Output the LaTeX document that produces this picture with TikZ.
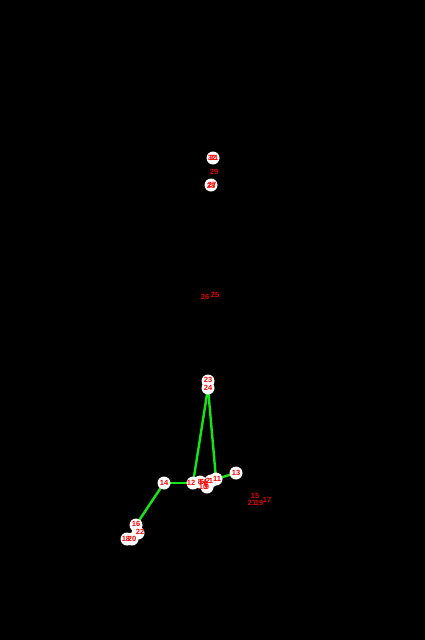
\documentclass[tikz,border=0pt]{standalone}
\usepackage{fontspec}
\setmainfont{Liberation Sans}
\begin{document}
\begin{tikzpicture}[x=1pt,y=-1pt,
  disc/.style={circle,fill=white,draw=none,minimum size=13pt,inner sep=0pt},
  txt/.style={inner sep=0pt,text=red,font=\bfseries\fontsize{7.5}{7.5}\selectfont},
  dim/.style={inner sep=0pt,text=red!90!black,font=\bfseries\fontsize{7.5}{7.5}\selectfont},
  bone/.style={draw={rgb,255:red,20;green,230;blue,20},line width=2.4pt,line cap=round}]
\fill[black] (0,0) rectangle (425,640);
\useasboundingbox (0,0) rectangle (425,640);
% coordinates
\coordinate (p23) at (208,381);
\coordinate (p24) at (208,388);
\coordinate (p11) at (216,479);
\coordinate (p12) at (193,483);
\coordinate (p13) at (236,473);
\coordinate (p14) at (164,483);
\coordinate (p16) at (136,525);
\coordinate (p18) at (127,539);
\coordinate (p20) at (132,539);
\coordinate (p22) at (138,533);
% bones
\draw[bone] (p24) -- (p12);
\draw[bone] (p24) -- (p11);
\draw[bone] (p12) -- (p11);
\draw[bone] (p12) -- (p14);
\draw[bone] (p14) -- (p16);
\draw[bone] (p11) -- (p13);
\draw[bone] (p16) -- (p22);
% dim labels (no circle)
\node[dim] (l29) at (214,172) {29};
\node[dim] (l26) at (205,297) {26};
\node[dim] (l25) at (215,295) {25};
\node[dim] (l15) at (255,496) {15};
\node[dim] (l17) at (267,500) {17};
\node[dim] (l21) at (252,503) {21};
\node[dim] (l19) at (259,503) {19};
% discs
\node[disc] (c31) at (213,158) {};
\node[disc] (c28) at (211,185) {};
\node[disc] (c23) at (p23) {};
\node[disc] (c24) at (p24) {};
\node[disc] (c13) at (p13) {};
\node[disc] (c14) at (p14) {};
\node[disc] (c12) at (p12) {};
\node[disc] (c11) at (p11) {};
\node[disc] (c8) at (200,482) {};
\node[disc] (c0) at (205,484) {};
\node[disc] (c9) at (207,487) {};
\node[disc] (c7) at (211,481) {};
\node[disc] (c16) at (p16) {};
\node[disc] (c22) at (p22) {};
\node[disc] (c18) at (p18) {};
\node[disc] (c20) at (p20) {};
% texts
\node[txt] (n32) at (212,158) {32};
\node[txt] (n31) at (214,158) {31};
\node[txt] (n27) at (212,185) {27};
\node[txt] (n28) at (211,186) {28};
\node[txt] (n23) at (208,380) {23};
\node[txt] (n24) at (208,388) {24};
\node[txt] (n13) at (p13) {13};
\node[txt] (n14) at (p14) {14};
\node[txt] (n12) at (191,483) {12};
\node[txt] (n11) at (217,479) {11};
\node[txt] (n8) at (200,482) {8};
\node[txt] (n6) at (202,482) {6};
\node[txt] (n4) at (205,482) {4};
\node[txt] (n10) at (203,487) {10};
\node[txt] (n9) at (207,487) {9};
\node[txt] (n0) at (206,484) {0};
\node[txt] (n2) at (208,481) {2};
\node[txt] (n1) at (211,481) {1};
\node[txt] (n16) at (136,524) {16};
\node[txt] (n22) at (140,532) {22};
\node[txt] (n18) at (126,539) {18};
\node[txt] (n20) at (132,539) {20};
\end{tikzpicture}
\end{document}
